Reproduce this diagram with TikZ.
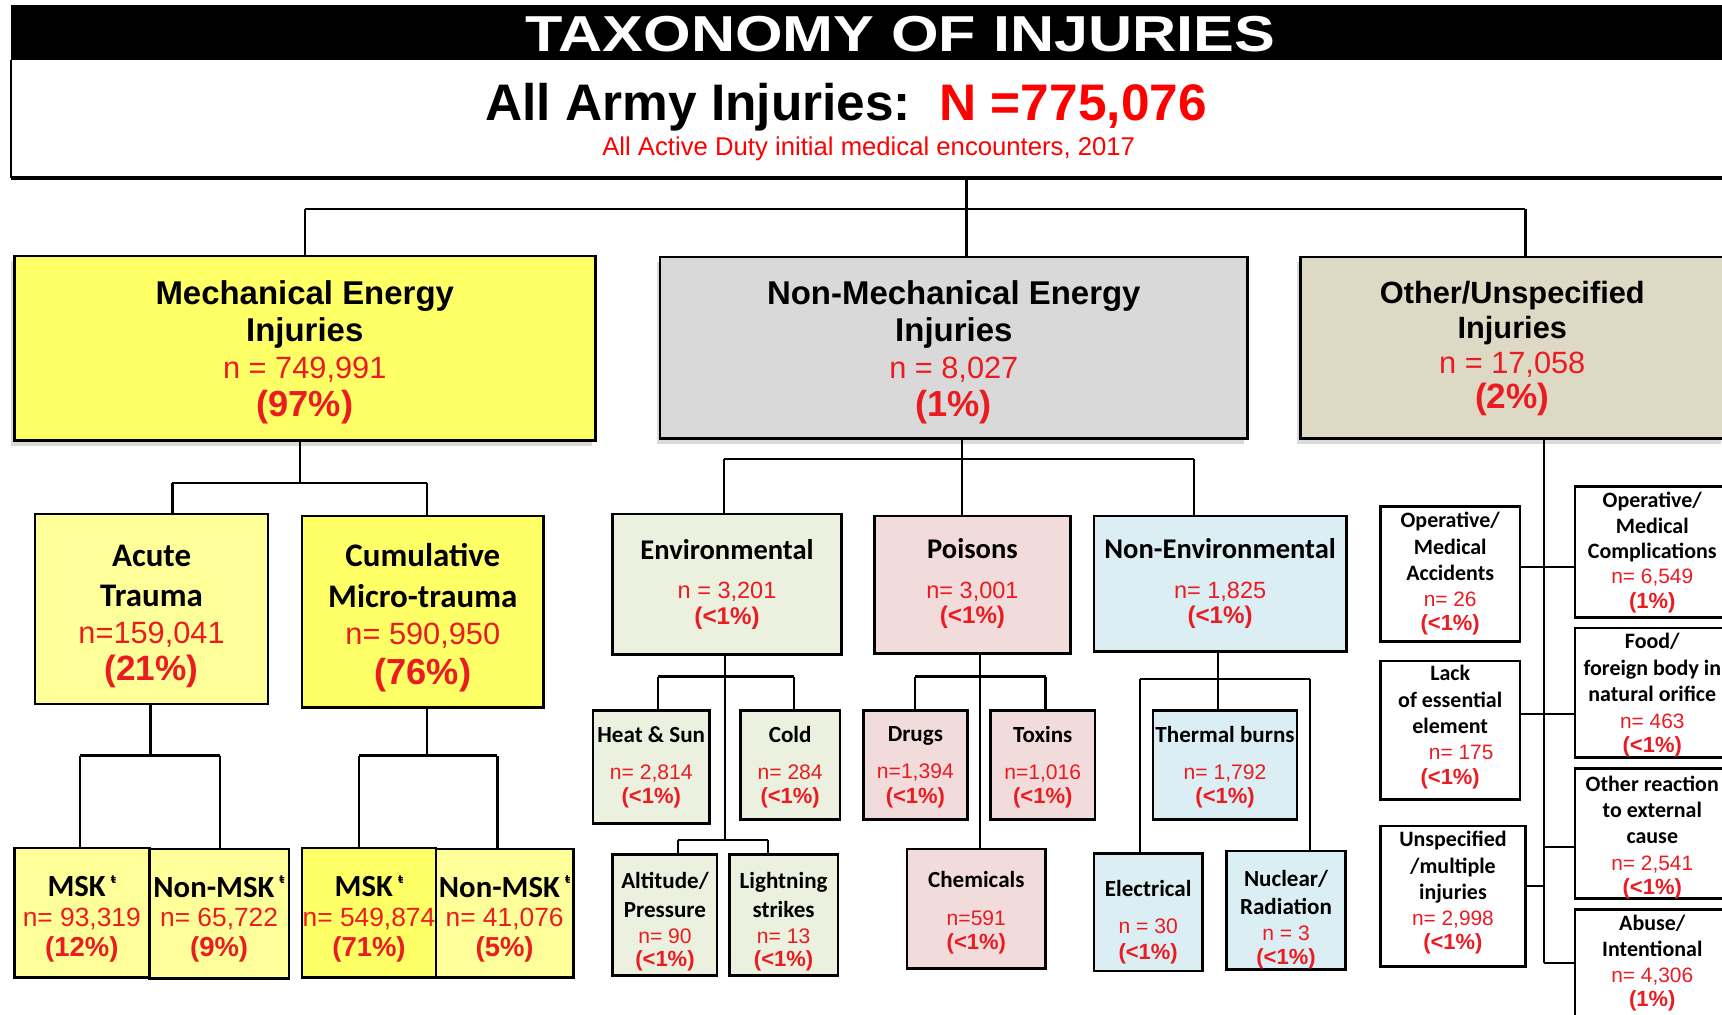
\documentclass[tikz,border=0pt]{standalone}
\usepackage{fontspec}
\setmainfont{Liberation Sans}
\newfontfamily\calfont{Carlito}
\newfontfamily\symfont{DejaVu Sans}
\usetikzlibrary{shadows}

\definecolor{nred}{RGB}{234,28,34}
\definecolor{ymech}{RGB}{255,255,102}
\definecolor{ylight}{RGB}{255,255,153}
\definecolor{gnonmech}{RGB}{217,217,217}
\definecolor{bother}{RGB}{221,217,196}
\definecolor{genv}{RGB}{235,241,222}
\definecolor{ppois}{RGB}{242,220,219}
\definecolor{bnonenv}{RGB}{219,238,244}

\newcommand{\hd}[2]{{\bfseries\fontsize{#1}{#1}\selectfont #2}}
\newcommand{\cb}[2]{{\calfont\bfseries\fontsize{#1}{#1}\selectfont #2}}
\newcommand{\nv}[2]{{\color{nred}\fontsize{#1}{#1}\selectfont #2}}
\newcommand{\pc}[2]{{\color{nred}\bfseries\fontsize{#1}{#1}\selectfont #2}}
\newcommand{\mskmark}{\,\raisebox{0.9ex}{\symfont\fontsize{5}{5}\selectfont ŧ}}

\tikzset{
  sz/.style 2 args={minimum width={#1*0.5pt}, minimum height={#2*0.5pt}},
  box/.style={draw, line width=1.2pt, inner sep=0pt},
  txt/.style={inner sep=0pt, align=center},
  shad/.style={drop shadow={shadow xshift=-1.5pt, shadow yshift=-2.5pt, opacity=0.3}},
  conn/.style={line width=1pt},
}

\begin{document}
\begin{tikzpicture}[x=0.5pt,y=0.5pt,yscale=-1,xscale=1]
\useasboundingbox (0,0) rectangle (1568,924);
\clip (0,0) rectangle (1568,924);

%Shape: Banner
\fill[black] (10,5) rectangle (1590,55);
\draw[line width=0.9pt] (10,55) -- (10,162);
\draw[line width=1.5pt] (10,162) -- (1590,162);

% Text Node
\node (title) [anchor=base, text=white, font=\bfseries\fontsize{23}{23}\selectfont] at (820,47) {\scalebox{1.21}[1]{TAXONOMY OF INJURIES}};
% Text Node
\node (total) [anchor=base, font=\bfseries\fontsize{23.4}{24}\selectfont] at (770.5,110) {All Army Injuries:\ \ \textcolor{red}{N =775,076}};
% Text Node
\node (sub) [anchor=base, text=red, font=\fontsize{11.7}{12}\selectfont] at (791,141.5) {All Active Duty initial medical encounters, 2017};

%Shape: Main boxes
\node (mech) [box, shad, fill=ymech, sz={529}{168}] at (277.5,317) {};
\node (nonmech) [box, shad, fill=gnonmech, sz={535}{165}] at (868.5,316.5) {};
\node (other) [box, shad, fill=bother, sz={386}{165}] at (1377,316.5) {};
% Text Node
\node (mecht) [txt, font=\fontsize{15}{17}\selectfont] at (277.5,320.5)
  {\hd{15}{Mechanical Energy}\\ \hd{15}{Injuries}\\ \nv{14}{n = 749,991}\\ \pc{16.5}{(97\%)}};
\node (nonmecht) [txt, font=\fontsize{15}{17}\selectfont] at (868.5,320.5)
  {\hd{15}{Non-Mechanical Energy}\\ \hd{15}{Injuries}\\ \nv{14}{n = 8,027}\\ \pc{16.5}{(1\%)}};
\node (othert) [txt, font=\fontsize{14}{16}\selectfont] at (1377,317.5)
  {\hd{14}{Other/Unspecified}\\ \hd{14}{Injuries}\\ \nv{14}{n = 17,058}\\ \pc{16}{(2\%)}};

%Shape: Mechanical branch
\node (acute) [box, fill=ylight, sz={212}{173}] at (138,554.5) {};
\node (cumul) [box, fill=ymech, sz={220}{174}] at (385,557) {};
\node (amsk) [box, fill=ylight, sz={123}{118}] at (74.5,831) {};
\node (anon) [box, fill=ylight, sz={127}{118}] at (199.5,832) {};
\node (cmsk) [box, fill=ymech, sz={122}{118}] at (336,831) {};
\node (cnon) [box, fill=ylight, sz={125}{117}] at (459.5,831.5) {};
% Text Node
\node (acutet) [txt, font=\fontsize{15}{17}\selectfont] at (138,561.5)
  {\cb{15}{Acute}\\[1pt] \cb{15}{Trauma}\\ \nv{14}{n=159,041}\\ \pc{16}{(21\%)}};
\node (cumult) [txt, font=\fontsize{15}{17}\selectfont] at (385,562.5)
  {\cb{15}{Cumulative}\\[1.5pt] \cb{15}{Micro-trauma}\\ \nv{14}{n= 590,950}\\[1pt] \pc{16.5}{(76\%)}};
\node (amskt) [txt, font=\fontsize{13}{13.5}\selectfont] at (74.5,836.5)
  {\cb{14}{MSK\mskmark}\\ \nv{12}{n= 93,319}\\ \pc{12.5}{(12\%)}};
\node (anont) [txt, font=\fontsize{13}{13.5}\selectfont] at (199.5,837)
  {\cb{14}{Non-MSK\mskmark}\\ \nv{12}{n= 65,722}\\ \pc{12.5}{(9\%)}};
\node (cmskt) [txt, font=\fontsize{13}{13.5}\selectfont] at (336,836.5)
  {\cb{14}{MSK\mskmark}\\ \nv{12}{n= 549,874}\\ \pc{12.5}{(71\%)}};
\node (cnont) [txt, font=\fontsize{13}{13.5}\selectfont] at (459.5,837)
  {\cb{14}{Non-MSK\mskmark}\\ \nv{12}{n= 41,076}\\ \pc{12.5}{(5\%)}};

%Shape: Non-mechanical branch
\node (env) [box, fill=genv, sz={208}{128}] at (662,532) {};
\node (pois) [box, fill=ppois, sz={179}{125}] at (885.5,532.5) {};
\node (nonenv) [box, fill=bnonenv, sz={230}{123}] at (1111,531.5) {};
\node (heat) [box, fill=genv, sz={106}{103}] at (593,698.5) {};
\node (cold) [box, fill=genv, sz={91}{99}] at (719.5,696.5) {};
\node (alti) [box, fill=genv, sz={95}{110}] at (605.5,833) {};
\node (light) [box, fill=genv, sz={99}{110}] at (713.5,833) {};
\node (drugs) [box, fill=ppois, sz={95}{99}] at (833.5,696.5) {};
\node (toxins) [box, fill=ppois, sz={95}{99}] at (949.5,696.5) {};
\node (chem) [box, fill=ppois, sz={126}{109}] at (889,827.5) {};
\node (thermal) [box, fill=bnonenv, sz={131}{99}] at (1115.5,696.5) {};
\node (elec) [box, fill=bnonenv, sz={99}{107}] at (1045.5,830.5) {};
\node (nuc) [box, fill=bnonenv, sz={108}{108}] at (1171,829) {};
% Text Node
\node (envt) [txt, font=\fontsize{11}{11.5}\selectfont] at (662,532)
  {\cb{13}{Environmental}\\[6.5pt] \nv{10.7}{n = 3,201}\\ \pc{11}{(<1\%)}};
\node (poist) [txt, font=\fontsize{11}{11.5}\selectfont] at (885.5,531.5)
  {\cb{13}{Poisons}\\[6.5pt] \nv{10.7}{n= 3,001}\\ \pc{11}{(<1\%)}};
\node (nonenvt) [txt, font=\fontsize{11}{11.5}\selectfont] at (1111,531.5)
  {\cb{13}{Non-Environmental}\\[6.5pt] \nv{10.7}{n= 1,825}\\ \pc{11}{(<1\%)}};
\node (heatt) [txt, font=\fontsize{10}{11}\selectfont] at (593,698.5)
  {\cb{10.5}{Heat \& Sun}\\[6pt] \nv{9.6}{n= 2,814}\\ \pc{10}{(<1\%)}};
\node (coldt) [txt, font=\fontsize{10}{11}\selectfont] at (719.5,698.5)
  {\cb{10.5}{Cold}\\[6pt] \nv{9.6}{n= 284}\\ \pc{10}{(<1\%)}};
\node (altit) [txt, font=\fontsize{10}{12}\selectfont] at (605.5,839.5)
  {\cb{10.5}{Altitude/}\\[1pt] \cb{10.5}{Pressure}\\ \nv{9.6}{n= 90}\\[-1.5pt] \pc{10}{(<1\%)}};
\node (lightt) [txt, font=\fontsize{10}{12}\selectfont] at (713.5,839.5)
  {\cb{10.5}{Lightning}\\[1pt] \cb{10.5}{strikes}\\ \nv{9.6}{n= 13}\\[-1.5pt] \pc{10}{(<1\%)}};
\node (drugst) [txt, font=\fontsize{10}{11}\selectfont] at (833.5,698.5)
  {\cb{10.5}{Drugs}\\[6pt] \nv{9.6}{n=1,394}\\ \pc{10}{(<1\%)}};
\node (toxinst) [txt, font=\fontsize{10}{11}\selectfont] at (949.5,698.5)
  {\cb{10.5}{Toxins}\\[6pt] \nv{9.6}{n=1,016}\\ \pc{10}{(<1\%)}};
\node (chemt) [txt, font=\fontsize{10}{11}\selectfont] at (889,831)
  {\cb{10.5}{Chemicals}\\[6.5pt] \nv{9.6}{n=591}\\ \pc{10}{(<1\%)}};
\node (thermalt) [txt, font=\fontsize{10}{11}\selectfont] at (1115.5,698.5)
  {\cb{10.5}{Thermal burns}\\[6pt] \nv{9.6}{n= 1,792}\\ \pc{10}{(<1\%)}};
\node (elect) [txt, font=\fontsize{10}{11.5}\selectfont] at (1045.5,839.5)
  {\cb{10.5}{Electrical}\\[5.5pt] \nv{9.6}{n = 30}\\ \pc{10}{(<1\%)}};
\node (nuct) [txt, font=\fontsize{10}{12}\selectfont] at (1171,837.5)
  {\cb{10.5}{Nuclear/}\\[0.5pt] \cb{10.5}{Radiation}\\ \nv{9.6}{n = 3}\\[-1pt] \pc{10}{(<1\%)}};

%Shape: Other branch
\node (opacc) [box, fill=white, sz={127}{123}] at (1320.5,522.5) {};
\node (lack) [box, fill=white, sz={127}{126}] at (1320.5,665) {};
\node (unspec) [box, fill=white, sz={132}{128}] at (1323,816) {};
\node (opcomp) [box, fill=white, sz={141}{119}] at (1504.5,502.5) {};
\node (food) [box, fill=white, sz={141}{118}] at (1504.5,631) {};
\node (otherreact) [box, fill=white, sz={141}{118}] at (1504.5,759) {};
\node (abuse) [box, fill=white, sz={141}{98}] at (1504.5,877) {};
% Text Node
\node (opacct) [txt, font=\fontsize{10}{12}\selectfont] at (1320.5,522.5)
  {\cb{10}{Operative/}\\ \cb{10}{Medical}\\ \cb{10}{Accidents}\\ \nv{9.5}{n= 26}\\[-1pt] \pc{10}{(<1\%)}};
\node (lackt) [txt, font=\fontsize{10}{12}\selectfont] at (1320.5,662)
  {\cb{10}{Lack}\\ \cb{10}{of essential}\\ \cb{10}{element}\\ \nv{9.5}{\hspace*{10pt}n= 175}\\[-1pt] \pc{10}{(<1\%)}};
\node (unspect) [txt, font=\fontsize{10}{12}\selectfont] at (1323,813)
  {\cb{10}{Unspecified}\\ \cb{10}{/multiple}\\ \cb{10}{injuries}\\ \nv{9.5}{n= 2,998}\\[-1pt] \pc{10}{(<1\%)}};
\node (opcompt) [txt, font=\fontsize{10}{11.5}\selectfont] at (1504.5,503.5)
  {\cb{10}{Operative/}\\ \cb{10}{Medical}\\ \cb{10}{Complications}\\ \nv{9.5}{n= 6,549}\\ \pc{10}{(1\%)}};
\node (foodt) [txt, font=\fontsize{10}{12}\selectfont] at (1504.5,633)
  {\cb{10}{Food/}\\ \cb{10}{foreign body in}\\ \cb{10}{natural orifice}\\ \nv{9.5}{n= 463}\\[-1pt] \pc{10}{(<1\%)}};
\node (otherreactt) [txt, font=\fontsize{10}{12}\selectfont] at (1504.5,762.5)
  {\cb{10}{Other reaction}\\ \cb{10}{to external}\\ \cb{10}{cause}\\ \nv{9.5}{n= 2,541}\\[-1pt] \pc{10}{(<1\%)}};
\node (abuset) [txt, font=\fontsize{10}{11.75}\selectfont] at (1504.5,877)
  {\cb{10}{Abuse/}\\ \cb{10}{Intentional}\\ \nv{9.5}{n= 4,306}\\[-0.5pt] \pc{10}{(1\%)}};

%Straight Lines: top level
\coordinate (hdr) at (880,163);
\coordinate (j0) at (880,190);
\coordinate (j0l) at (278,190);
\coordinate (j0r) at (1389,190);
\draw[conn] (hdr) -- (j0);
\draw[conn] (j0l) -- (j0r);
\draw[conn] (j0l) -- (j0l |- mech.north);
\draw[conn] (j0) -- (j0 |- nonmech.north);
\draw[conn] (j0r) -- (j0r |- other.north);

%Straight Lines: mechanical
\coordinate (j1) at (273,440);
\coordinate (j1l) at (157,440);
\coordinate (j1r) at (389,440);
\draw[conn] (mech.south -| j1) -- (j1);
\draw[conn] (j1l) -- (j1r);
\draw[conn] (j1l) -- (j1l |- acute.north);
\draw[conn] (j1r) -- (j1r |- cumul.north);

\coordinate (j2) at (137,688);
\coordinate (j2l) at (73,688);
\coordinate (j2r) at (200,688);
\draw[conn] (acute.south -| j2) -- (j2);
\draw[conn] (j2l) -- (j2r);
\draw[conn] (j2l) -- (j2l |- amsk.north);
\draw[conn] (j2r) -- (j2r |- anon.north);

\coordinate (j3) at (389,688);
\coordinate (j3l) at (327,688);
\coordinate (j3r) at (453,688);
\draw[conn] (cumul.south -| j3) -- (j3);
\draw[conn] (j3l) -- (j3r);
\draw[conn] (j3l) -- (j3l |- cmsk.north);
\draw[conn] (j3r) -- (j3r |- cnon.north);

%Straight Lines: non-mechanical
\coordinate (j4) at (876,418);
\coordinate (j4l) at (659,418);
\coordinate (j4r) at (1087,418);
\draw[conn] (nonmech.south -| j4) -- (j4);
\draw[conn] (j4l) -- (j4r);
\draw[conn] (j4l) -- (j4l |- env.north);
\draw[conn] (j4) -- (j4 |- pois.north);
\draw[conn] (j4r) -- (j4r |- nonenv.north);

\coordinate (j5) at (660,616);
\coordinate (j5l) at (599,616);
\coordinate (j5r) at (723,616);
\coordinate (j6) at (660,765);
\coordinate (j6l) at (617,765);
\coordinate (j6r) at (699,765);
\draw[conn] (env.south -| j5) -- (j6);
\draw[conn] (j5l) -- (j5r);
\draw[conn] (j5l) -- (j5l |- heat.north);
\draw[conn] (j5r) -- (j5r |- cold.north);
\draw[conn] (j6l) -- (j6r);
\draw[conn] (j6l) -- (j6l |- alti.north);
\draw[conn] (j6r) -- (j6r |- light.north);

\coordinate (j7) at (892,616);
\coordinate (j7l) at (833,616);
\coordinate (j7r) at (952,616);
\draw[conn] (pois.south -| j7) -- (j7 |- chem.north);
\draw[conn] (j7l) -- (j7r);
\draw[conn] (j7l) -- (j7l |- drugs.north);
\draw[conn] (j7r) -- (j7r |- toxins.north);

\coordinate (j8) at (1109,618);
\coordinate (j8l) at (1038,618);
\coordinate (j8r) at (1193,618);
\draw[conn] (nonenv.south -| j8) -- (j8 |- thermal.north);
\draw[conn] (j8l) -- (j8r);
\draw[conn] (j8l) -- (j8l |- elec.north);
\draw[conn] (j8r) -- (j8r |- nuc.north);

%Straight Lines: other
\coordinate (j9) at (1406,877);
\coordinate (s1) at (1406,516);
\coordinate (s2) at (1406,650);
\coordinate (s3) at (1406,771);
\coordinate (s4) at (1406,807);
\draw[conn] (other.south -| j9) -- (j9);
\draw[conn] (opacc.east |- s1) -- (opcomp.west |- s1);
\draw[conn] (lack.east |- s2) -- (food.west |- s2);
\draw[conn] (s3) -- (otherreact.west |- s3);
\draw[conn] (unspec.east |- s4) -- (s4);
\draw[conn] (j9) -- (abuse.west |- j9);
\end{tikzpicture}
\end{document}
